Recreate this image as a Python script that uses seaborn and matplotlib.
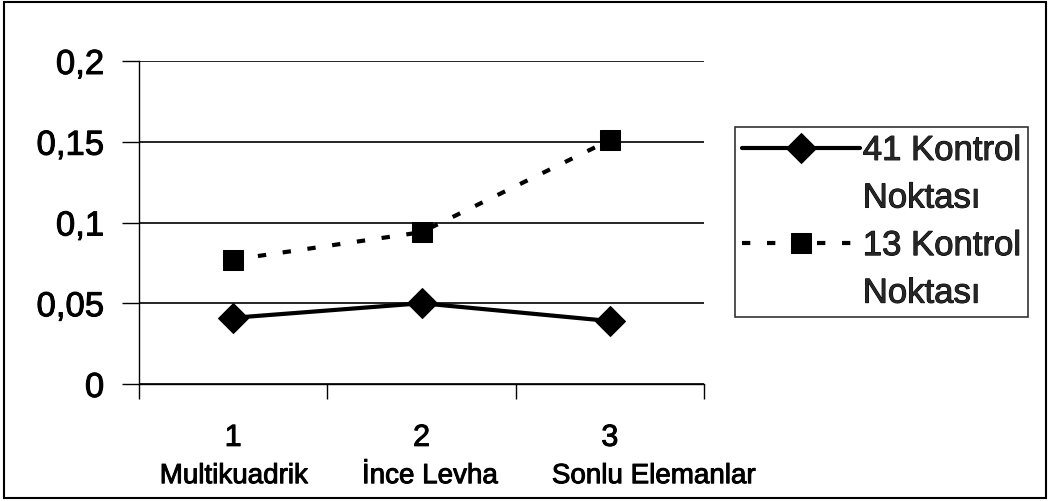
import numpy as np
import pandas as pd
import matplotlib
matplotlib.use("Agg")
import matplotlib.pyplot as plt
import matplotlib.transforms as mtransforms
import matplotlib.patheffects as pe
from matplotlib.ticker import FuncFormatter
from matplotlib.patches import Rectangle
from matplotlib.lines import Line2D
import seaborn as sns

# ---- data ----
positions = [1, 2, 3]
position_labels = ["1", "2", "3"]
method_names = ["Multikuadrik", "İnce Levha", "Sonlu Elemanlar"]
series_41 = [0.041, 0.050, 0.039]
series_13 = [0.077, 0.094, 0.151]
series_labels = ["41 Kontrol\nNoktası", "13 Kontrol\nNoktası"]
y_ticks = [0, 0.05, 0.1, 0.15, 0.2]

sns.set_theme(style="ticks")
plt.rcParams['font.family'] = ['Liberation Sans', 'DejaVu Sans']
heavy = [pe.withStroke(linewidth=0.7, foreground="black")]

fig = plt.figure(figsize=(10.5, 5.01), dpi=100)
ax = fig.add_axes([139 / 1050, 1 - 384 / 501, (704 - 139) / 1050, (384 - 61) / 501])

df41 = pd.DataFrame({"x": positions, "y": series_41})
df13 = pd.DataFrame({"x": positions, "y": series_13})

sns.lineplot(data=df41, x="x", y="y", ax=ax, color="black", linewidth=3,
             marker="D", markersize=15, markeredgecolor="black",
             label=series_labels[0])
sns.lineplot(data=df13, x="x", y="y", ax=ax, color="black", linewidth=3,
             linestyle=(0, (2, 4)), marker="s", markersize=14,
             markeredgecolor="black", label=series_labels[1])

ax.set_xlim(0.5, 3.5)
ax.set_ylim(0, 0.2)
ax.set_xlabel("")
ax.set_ylabel("")

ax.set_xticks(positions)
ax.set_xticklabels(position_labels, fontsize=22)
ax.set_xticks([0.5, 1.5, 2.5, 3.5], minor=True)
ax.tick_params(axis="x", which="major", length=0, pad=28, colors="black")
ax.tick_params(axis="x", which="minor", length=11, width=1, direction="out",
               color="black", bottom=True)

ax.set_yticks(y_ticks)
ax.yaxis.set_major_formatter(FuncFormatter(lambda v, _: f"{v:g}".replace(".", ",")))
ax.tick_params(axis="y", which="major", length=12, width=1, direction="out",
               pad=13, labelsize=25, colors="black", left=True)

for t in ax.get_xticklabels() + ax.get_yticklabels():
    t.set_path_effects(heavy)

ax.yaxis.grid(True, color="black", linewidth=1.2)
ax.xaxis.grid(False)
for s in ["top", "right"]:
    ax.spines[s].set_visible(False)
for s in ["left", "bottom"]:
    ax.spines[s].set_color("black")
    ax.spines[s].set_linewidth(1)

# method names typed as one line under the category numbers
trans = mtransforms.blended_transform_factory(ax.transData, ax.transAxes)
ax.text(positions[0] - 0.39, -0.307, "       ".join(method_names), transform=trans,
        ha="left", va="baseline", fontsize=20, color="black", path_effects=heavy)

# legend: each label split on two rows, handle on the first row
handles, _ = ax.get_legend_handles_labels()
blank = Line2D([], [], linestyle="none", marker=None, color="none")
leg_handles, leg_labels = [], []
for h, lab in zip(handles, series_labels):
    first, second = lab.split("\n")
    leg_handles += [h, blank]
    leg_labels += [first, second]

leg = ax.legend(leg_handles, leg_labels, loc="upper left",
                bbox_to_anchor=(735 / 1050, 1 - 127 / 501),
                bbox_transform=fig.transFigure, frameon=True, fancybox=False,
                edgecolor="black", fontsize=25, handlelength=3.4,
                borderaxespad=0, labelspacing=0.42, handletextpad=0.08,
                borderpad=0.2)
leg.get_frame().set_linewidth(1.2)
for t in leg.get_texts():
    t.set_path_effects(heavy)

fig.patches.append(Rectangle((0.004, 0.006), 0.992, 0.99, transform=fig.transFigure,
                             fill=False, edgecolor="black", linewidth=1.5))

fig.savefig("out.png", dpi=100)
